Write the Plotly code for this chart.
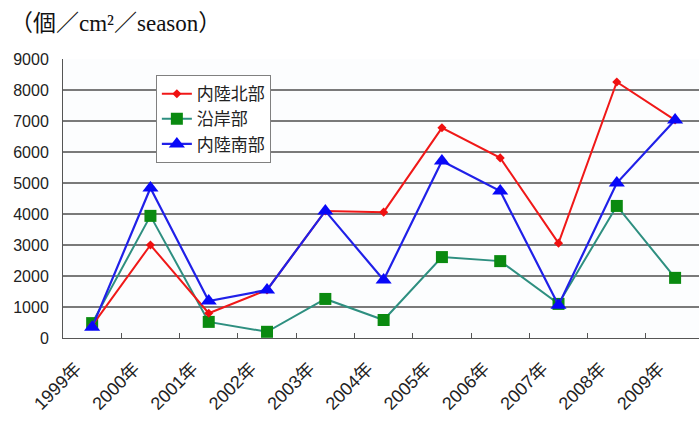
import plotly.graph_objects as go

years = ["1999年", "2000年", "2001年", "2002年", "2003年", "2004年",
         "2005年", "2006年", "2007年", "2008年", "2009年"]
north_inland = [400, 3000, 800, 1550, 4100, 4060, 6780, 5810, 3060, 8260, 7030]
coastal = [480, 3940, 520, 200, 1260, 580, 2610, 2480, 1100, 4260, 1940]
south_inland = [350, 4840, 1190, 1550, 4100, 1870, 5710, 4740, 1060, 5000, 7030]
y_ticks = [0, 1000, 2000, 3000, 4000, 5000, 6000, 7000, 8000, 9000]
grid_vals = [1000, 2000, 3000, 4000, 5000, 6000, 7000, 8000]

sans = "Liberation Sans, Arial, Noto Sans CJK JP, sans-serif"
cjk = "Noto Sans CJK JP, sans-serif"

fig = go.Figure()

# invisible trace to activate the gridline axis
fig.add_trace(go.Scatter(x=[years[0]], y=[0], yaxis="y2", showlegend=False,
                         hoverinfo="skip", mode="markers",
                         marker=dict(opacity=0)))

# coastal drawn first so the inland series sit on top
fig.add_trace(go.Scatter(
    x=years, y=coastal, name="沿岸部", mode="lines+markers",
    line=dict(color="#2e8f80", width=2),
    marker=dict(symbol="square", size=12, color="#0a8a10"),
    legendrank=2,
))
fig.add_trace(go.Scatter(
    x=years, y=north_inland, name="内陸北部", mode="lines+markers",
    line=dict(color="#f01818", width=2),
    marker=dict(symbol="diamond", size=7, color="#f01010"),
    legendrank=1,
))
fig.add_trace(go.Scatter(
    x=years, y=south_inland, name="内陸南部", mode="lines+markers",
    line=dict(color="#2020e8", width=2.2),
    marker=dict(symbol="triangle-up", size=14, color="#0808f8"),
    legendrank=3,
))

fig.update_layout(
    width=699, height=423,
    margin=dict(l=63, r=0, t=59, b=85),
    paper_bgcolor="white",
    plot_bgcolor="#fcfdfe",
    showlegend=True,
    legend=dict(
        x=0.146, y=0.942, xanchor="left", yanchor="top",
        bgcolor="white", bordercolor="#808080", borderwidth=1,
        font=dict(family=cjk, size=17, color="#222"),
        tracegroupgap=0, itemwidth=30,
    ),
    xaxis=dict(
        type="category", categoryorder="array", categoryarray=years,
        range=[-0.5, 10.41],
        showgrid=False, showline=True, linecolor="#555", linewidth=1,
        ticks="inside", tickson="boundaries", ticklen=5, tickcolor="#555",
        tickangle=-45, tickfont=dict(family=sans, size=18, color="#222"),
        ticklabelstandoff=12, ticklabelshift=-16,
    ),
    yaxis=dict(
        range=[0, 9000], tickvals=y_ticks,
        showgrid=False, zeroline=False,
        showline=True, linecolor="#555", linewidth=1,
        ticks="inside", ticklen=4, tickcolor="#777",
        tickfont=dict(family=sans, size=16, color="#222"),
        ticklabelstandoff=10,
    ),
    yaxis2=dict(
        overlaying="y", range=[0, 9000], tickvals=grid_vals,
        showgrid=True, gridcolor="#7a7a7a", gridwidth=1.5,
        showticklabels=False, zeroline=False, showline=False,
    ),
    annotations=[dict(
        text="（個／cm²／season）", xref="paper", yref="paper",
        x=-0.0865, y=1.0, xanchor="left", yanchor="bottom", yshift=21,
        showarrow=False,
        font=dict(family="Liberation Serif, Noto Sans CJK JP, serif", size=23, color="#111"),
    )],
)

fig.write_html("out.html")
